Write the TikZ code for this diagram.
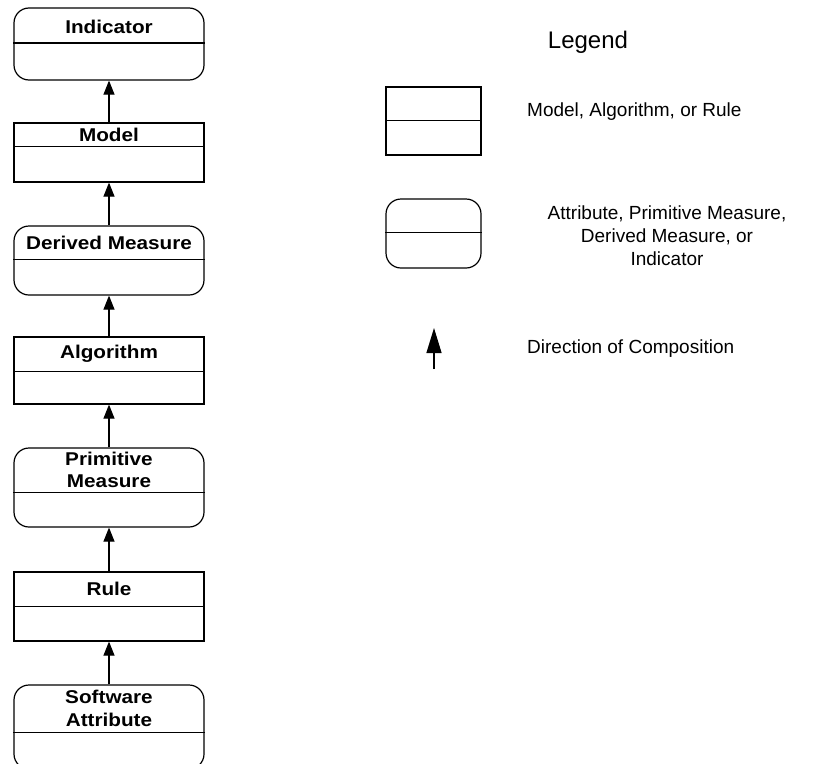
\documentclass[tikz,border=0pt]{standalone}
\usepackage{fontspec}
\setmainfont{Liberation Sans}
\newfontfamily\boxfont{Liberation Sans Bold}[FakeStretch=1.12]
\usetikzlibrary{arrows.meta}
\tikzset{
  box/.style={draw, line width=1.2pt, minimum width=190pt, inner sep=0pt},
  sqbox/.style={box},
  rdbox/.style={box, rounded corners=15pt},
  title/.style={anchor=north, minimum width=190pt, inner sep=0pt, align=center,
    font=\boxfont\fontsize{18.5}{22.5}\selectfont},
  divider/.style={line width=1.1pt},
  compose/.style={line width=1.1pt, -{Triangle[length=14pt,width=11pt]}},
  legendtext/.style={font=\fontsize{19}{23}\selectfont, inner sep=0pt},
}
\begin{document}
\begin{tikzpicture}[x=1pt,y=1pt]
\clip (0,0) rectangle (818,-763);

% composition chain: top edge, divider, bottom edge of each box
\node[rdbox, minimum height=72pt] (ind) at (109,-44) {};
\node[title, minimum height=38pt] (indt) at (ind.north) {Indicator};
\node[sqbox, minimum height=59pt] (mod) at (109,-152.5) {};
\node[title, minimum height=24pt] (modt) at (mod.north) {Model};
\node[rdbox, minimum height=69pt] (der) at (109,-260.5) {};
\node[title, minimum height=34pt] (dert) at (der.north) {Derived Measure};
\node[sqbox, minimum height=67pt] (alg) at (109,-370.5) {};
\node[title, minimum height=35pt] (algt) at (alg.north) {Algorithm};
\node[rdbox, minimum height=79pt] (pri) at (109,-487.5) {};
\node[title, minimum height=45pt] (prit) at (pri.north) {Primitive\\Measure};
\node[sqbox, minimum height=69pt] (rul) at (109,-606.5) {};
\node[title, minimum height=35pt] (rult) at (rul.north) {Rule};
\node[rdbox, minimum height=84pt] (sw) at (109,-727) {};
\node[title, minimum height=48pt] (swt) at (sw.north) {Software\\Attribute};

\draw[divider] (ind.west |- 0,-43) -- (ind.east |- 0,-43);
\foreach \t/\b in {modt/mod, dert/der, algt/alg, prit/pri, rult/rul, swt/sw}
  \draw[divider] (\t.south -| \b.west) -- (\t.south -| \b.east);

\draw[compose] (mod.north) -- (ind.south);
\draw[compose] (der.north) -- (mod.south);
\draw[compose] (alg.north) -- (der.south);
\draw[compose] (pri.north) -- (alg.south);
\draw[compose] (rul.north) -- (pri.south);
\draw[compose] (sw.north) -- (rul.south);

% legend
\node[font=\fontsize{24}{28}\selectfont, inner sep=0pt] (leg) at (588,-42) {Legend};

\node[sqbox, minimum width=95pt, minimum height=68pt] (lsq) at (433.5,-121) {};
\node[title, minimum width=95pt, minimum height=34pt] (lsqt) at (lsq.north) {};
\draw[divider] (lsqt.south -| lsq.west) -- (lsqt.south -| lsq.east);
\node[legendtext, anchor=west] (lsqx) at (527,-112) {Model, Algorithm, or Rule};

\node[rdbox, minimum width=95pt, minimum height=69pt] (lrd) at (433.5,-233.5) {};
\node[title, minimum width=95pt, minimum height=34pt] (lrdt) at (lrd.north) {};
\draw[divider] (lrdt.south -| lrd.west) -- (lrdt.south -| lrd.east);
\node[legendtext, align=center] (lrdx) at (667,-236)
  {Attribute, Primitive Measure,\\Derived Measure, or\\Indicator};

\coordinate (ltail) at (434,-369);
\coordinate (ltip) at (434,-328);
\draw[line width=1.3pt, -{Triangle[length=25pt,width=15pt]}] (ltail) -- (ltip);
\node[legendtext, anchor=west] (lar) at (527,-349) {Direction of Composition};
\end{tikzpicture}
\end{document}
